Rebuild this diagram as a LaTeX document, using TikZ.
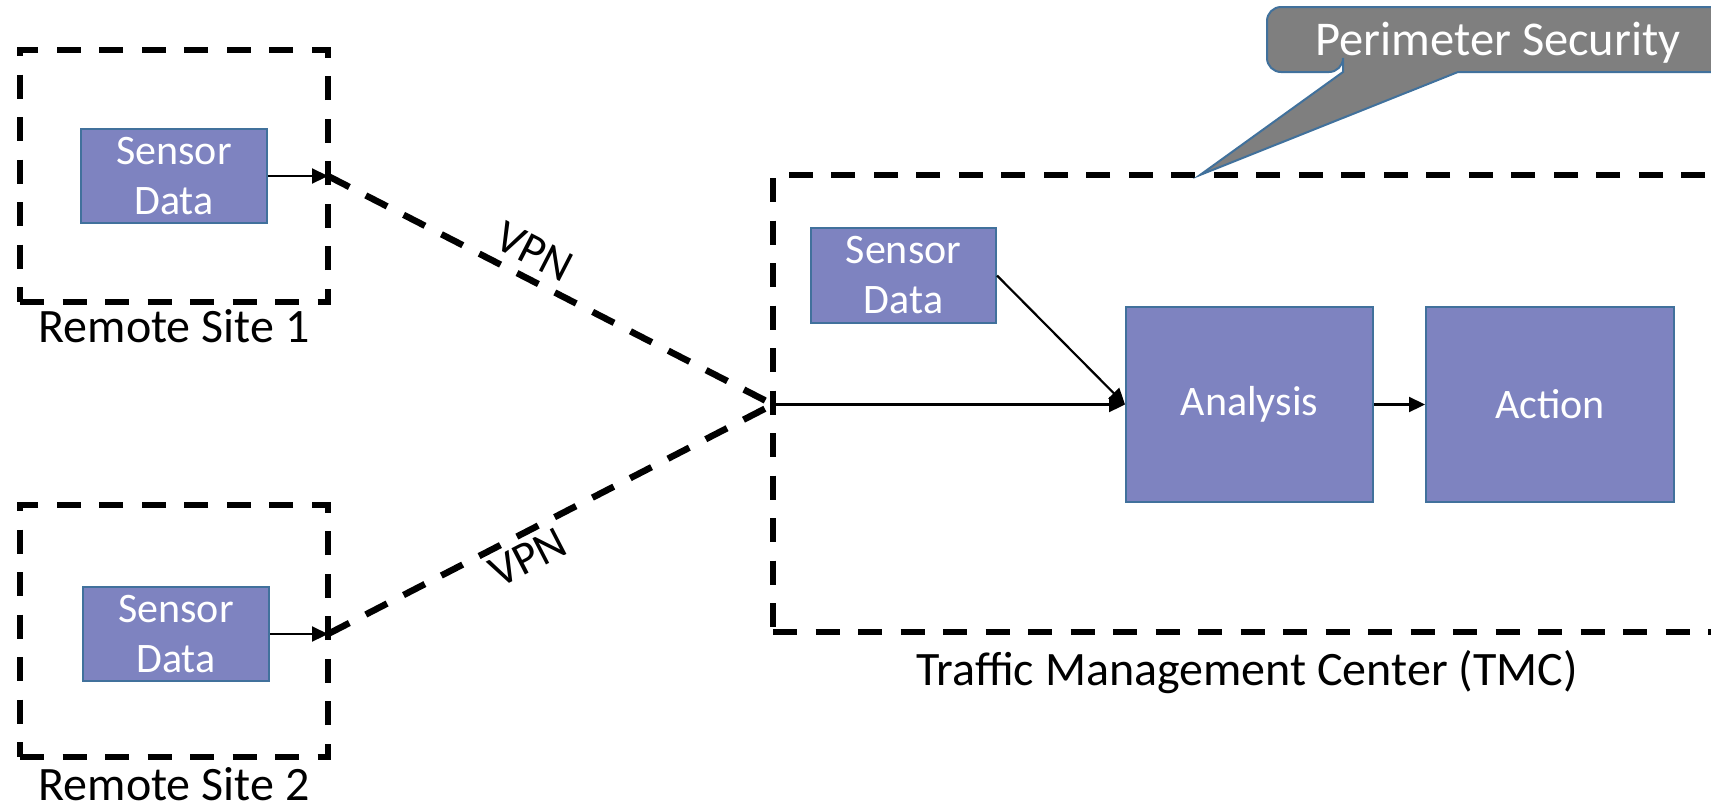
\documentclass[tikz,border=0pt]{standalone}
\usepackage{fontspec}
\setmainfont{Carlito}
\usetikzlibrary{arrows.meta,calc}

\definecolor{boxfill}{RGB}{126,131,192}
\definecolor{boxline}{RGB}{65,113,156}
\definecolor{calloutfill}{RGB}{127,127,127}

\tikzset{
  sitebox/.style={draw=black, line width=6.5pt, dash pattern=on 24pt off 18.5pt,
    inner sep=0pt, outer sep=0pt},
  vpnline/.style={draw=black, line width=6.5pt, dash pattern=on 24pt off 18.5pt},
  procbox/.style={draw=boxline, line width=2pt, fill=boxfill, text=white,
    align=center, inner sep=0pt, font=\fontsize{42}{50}\selectfont},
  flow/.style={draw=black, line width=2.2pt, -{Triangle[length=16pt,width=15pt]}},
  sitelabel/.style={font=\fontsize{48}{56}\selectfont, inner sep=0pt, anchor=base},
  vpnlabel/.style={font=\fontsize{46}{54}\selectfont, inner sep=0pt, sloped},
  calloutbox/.style={draw=boxline, line width=2pt, fill=calloutfill},
}

\begin{document}
\begin{tikzpicture}[x=1pt,y=-1pt]
\useasboundingbox (0,0) rectangle (1711,804);
\clip (0,0) rectangle (1711,804);

% remote sites
\node[sitebox, minimum width=308pt, minimum height=252pt] (rs1) at (174,176) {};
\node[sitebox, minimum width=308pt, minimum height=252pt] (rs2) at (174,631) {};
\node[procbox, minimum width=186pt, minimum height=94pt] (s1) at (174,176) {Sensor\\Data};
\node[procbox, minimum width=186pt, minimum height=94pt] (s2) at (176,634) {Sensor\\Data};
\node[sitelabel] (l1) at ($(rs1.south)+(0,40)$) {Remote Site 1};
\node[sitelabel] (l2) at ($(rs2.south)+(0,43)$) {Remote Site 2};

% traffic management center
\node[sitebox, anchor=north west, minimum width=960pt, minimum height=457pt] (tmc) at (773,175) {};
\node[sitelabel] (l3) at ($(tmc.south west)+(474,53)$) {Traffic Management Center (TMC)};
\node[procbox, minimum width=185pt, minimum height=95pt] (ts) at (903.5,275.5) {Sensor\\Data};
\node[procbox, minimum width=247pt, minimum height=195pt] (an) at (1249.5,404.5) {Analysis};
\node[procbox, minimum width=248pt, minimum height=195pt] (ac) at (1550,404.5) {Action};

\coordinate (p1) at (s1.east -| rs1.east);
\coordinate (p2) at (s2.east -| rs2.east);
\coordinate (cv) at (tmc.west |- an.west);
\coordinate (tip) at ($(tmc.north west)+(427,0)$);

% links
\draw[flow] (s1.east) -- (p1);
\draw[flow] (s2.east) -- (p2);
\draw[vpnline] (p1) -- node[vpnlabel, pos=0.436, anchor=south, outer ysep=12pt] (v1) {VPN} (cv);
\draw[vpnline] (p2) -- node[vpnlabel, pos=0.425, anchor=north, outer ysep=9pt] (v2) {VPN} (cv);
\draw[flow] (cv) -- (an.west);
\draw[flow] (ts.east) -- (an.west);
\draw[flow] (an.east) -- (ac.west);

% perimeter callout
\draw[calloutbox] (1343,72) -- (tip) -- (1458,72) -- (1760,72) [rounded corners=14pt]
  -- (1760,7) -- (1267,7) -- (1267,72) -- (1343,72) [sharp corners] -- cycle;
\node[font=\fontsize{48.5}{56}\selectfont, text=white, inner sep=0pt, anchor=base] (ps) at (1498,55) {Perimeter Security};
\end{tikzpicture}
\end{document}
